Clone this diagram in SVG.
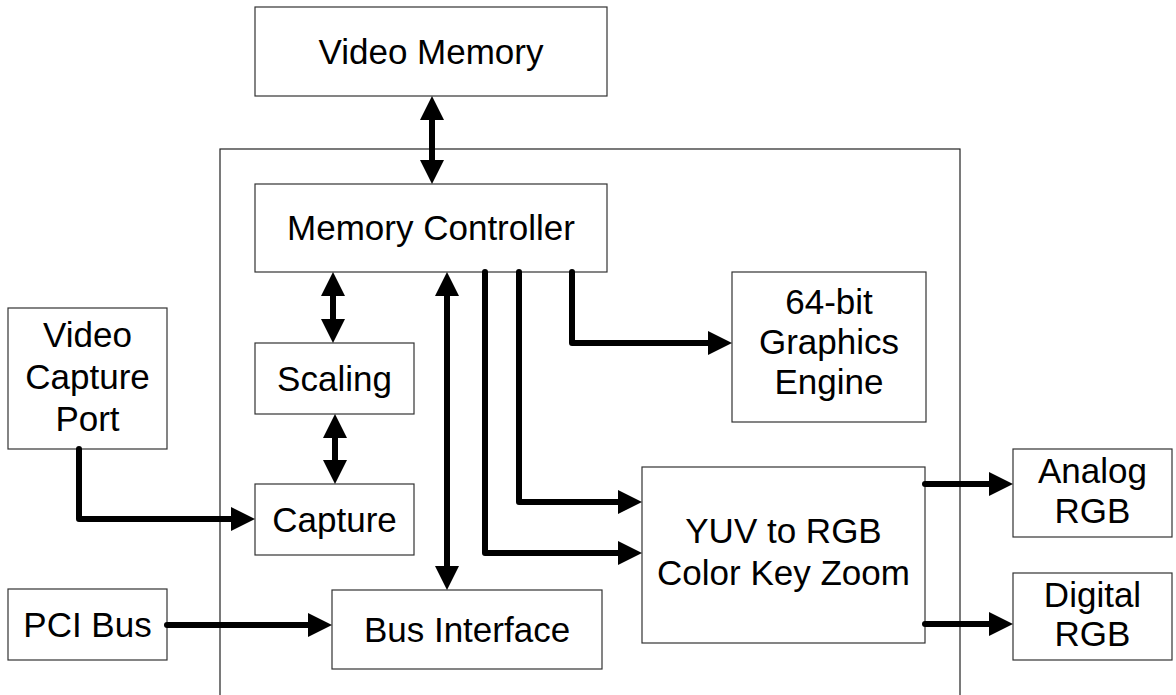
<svg xmlns="http://www.w3.org/2000/svg" width="1176" height="695" viewBox="0 0 1176 695">
<style>
.box{fill:#fff;stroke:#333;stroke-width:1.2}
.outer{fill:none;stroke:#222;stroke-width:1.2}
.t{font-family:"Liberation Sans",Arial,sans-serif;font-size:35px;fill:#000;text-anchor:middle}
.c{fill:none;stroke:#000;stroke-width:6;stroke-linejoin:round;stroke-linecap:round}
.uni{marker-end:url(#ah)}
.bi{marker-start:url(#ah);marker-end:url(#ah)}
</style>
<defs>
<marker id="ah" markerUnits="userSpaceOnUse" markerWidth="26" markerHeight="26" refX="14" refY="12" orient="auto-start-reverse">
<path d="M0,0 L24,12 L0,24 Z" fill="#000"/>
</marker>
</defs>
<rect class="outer" x="220" y="149" width="740" height="560"/>
<g id="video-memory"><rect class="box" x="255" y="7" width="352" height="89"/><text class="t" x="431" y="64">Video Memory</text></g>
<g id="memory-controller"><rect class="box" x="255" y="184" width="352" height="88"/><text class="t" x="431" y="240">Memory Controller</text></g>
<g id="graphics-engine"><rect class="box" x="732" y="272" width="194" height="150"/><text class="t" x="829" y="314">64-bit</text><text class="t" x="829" y="354">Graphics</text><text class="t" x="829" y="394">Engine</text></g>
<g id="video-capture-port"><rect class="box" x="8" y="308" width="159" height="141"/><text class="t" x="87.5" y="347">Video</text><text class="t" x="87.5" y="389">Capture</text><text class="t" x="87.5" y="431">Port</text></g>
<g id="scaling"><rect class="box" x="255" y="343" width="159" height="71"/><text class="t" x="334.5" y="391">Scaling</text></g>
<g id="capture"><rect class="box" x="255" y="484" width="159" height="71"/><text class="t" x="334.5" y="532">Capture</text></g>
<g id="pci-bus"><rect class="box" x="8" y="589" width="159" height="71"/><text class="t" x="87.5" y="637">PCI Bus</text></g>
<g id="bus-interface"><rect class="box" x="332" y="590" width="270" height="79"/><text class="t" x="467" y="642">Bus Interface</text></g>
<g id="yuv"><rect class="box" x="642" y="467" width="283" height="176"/><text class="t" x="783.5" y="543">YUV to RGB</text><text class="t" x="783.5" y="585">Color Key Zoom</text></g>
<g id="analog-rgb"><rect class="box" x="1013" y="449" width="159" height="88"/><text class="t" x="1092.5" y="483">Analog</text><text class="t" x="1092.5" y="523">RGB</text></g>
<g id="digital-rgb"><rect class="box" x="1013" y="573" width="159" height="87"/><text class="t" x="1092.5" y="607">Digital</text><text class="t" x="1092.5" y="646">RGB</text></g>
<g id="connectors">
<path class="c bi" d="M432,106 L432,174"/>
<path class="c bi" d="M333,282 L333,333"/>
<path class="c bi" d="M335,424 L335,474"/>
<path class="c bi" d="M447,282 L447,580"/>
<path class="c uni" d="M485,272 L485,553 L632,553"/>
<path class="c uni" d="M519,272 L519,502 L632,502"/>
<path class="c uni" d="M572,272 L572,343 L722,343"/>
<path class="c uni" d="M79,449 L79,519 L245,519"/>
<path class="c uni" d="M167,625 L322,625"/>
<path class="c uni" d="M925,484 L1003,484"/>
<path class="c uni" d="M925,624 L1003,624"/>
</g>
</svg>
